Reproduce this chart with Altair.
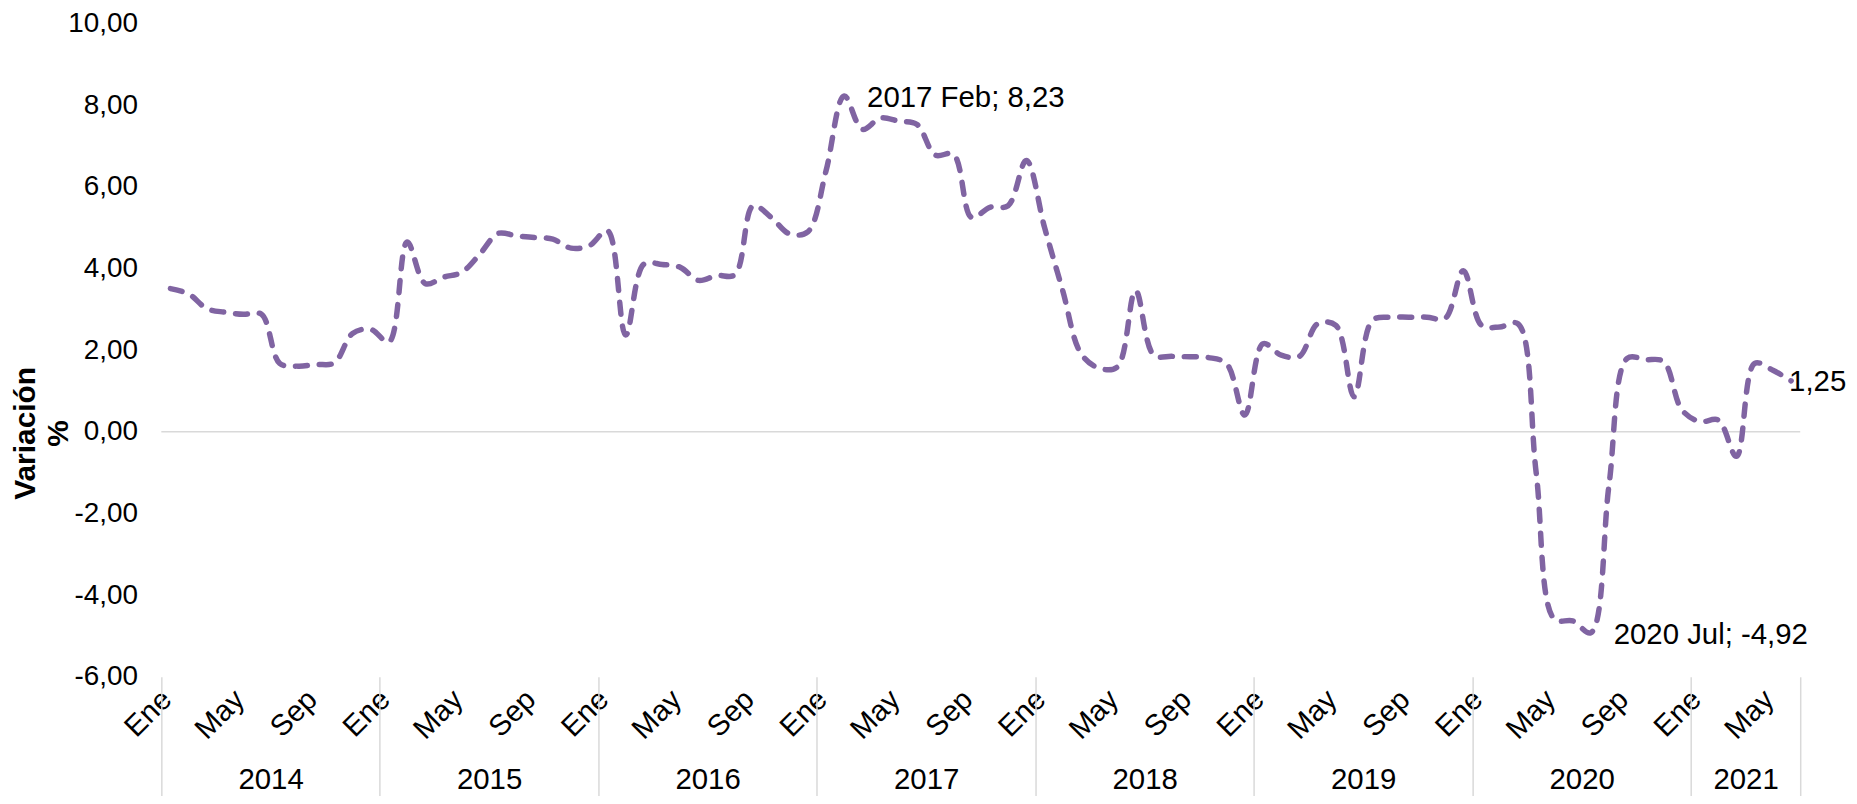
import altair as alt
import pandas as pd

MONTHS = ["Ene", "Feb", "Mar", "Abr", "May", "Jun", "Jul", "Ago", "Sep", "Oct", "Nov", "Dic"]
YEARS = [2014, 2015, 2016, 2017, 2018, 2019, 2020, 2021]

V2014 = [3.51, 3.38, 3.02, 2.93, 2.88, 2.88, 1.68, 1.61, 1.65, 1.69, 2.41, 2.51]
V2015 = [2.20, 4.65, 3.63, 3.79, 3.91, 4.36, 4.86, 4.80, 4.76, 4.72, 4.50, 4.56]
V2016 = [4.93, 2.37, 4.11, 4.10, 4.03, 3.71, 3.83, 3.85, 5.54, 5.25, 4.85, 4.90]
V2017 = [6.39, 8.23, 7.41, 7.69, 7.61, 7.53, 6.78, 6.80, 5.25, 5.50, 5.54, 6.65]
V2018 = [5.01, 3.46, 1.92, 1.56, 1.59, 3.46, 1.88, 1.85, 1.84, 1.82, 1.67, 0.41]
V2019 = [2.16, 1.88, 1.85, 2.65, 2.61, 0.86, 2.73, 2.81, 2.81, 2.81, 2.78, 3.95]
V2020 = [2.61, 2.57, 2.65, -1.00, -4.59, -4.63, -4.92, -1.30, 1.80, 1.77, 1.72, 0.54]
V2021 = [0.25, 0.29, -0.60, 1.68, 1.51, 1.25]
SERIES = [V2014, V2015, V2016, V2017, V2018, V2019, V2020, V2021]

ANNOTATED = [(2017, "Feb"), (2020, "Jul")]

FONT = "Liberation Sans"
PURPLE = "#8064A2"
GRAY = "#d9d9d9"
FS = 29.5

rows = []
idx = 0
for y, vals in zip(YEARS, SERIES):
    for m, v in enumerate(vals):
        rows.append({"idx": idx, "year": y, "month": MONTHS[m], "val": v})
        idx += 1
df = pd.DataFrame(rows)
N = len(df)


def fmt(v):
    return ("-" if v < 0 else "") + f"{abs(v):.2f}".replace(".", ",")


df["label"] = ""
for (yy, mm) in ANNOTATED:
    sel = (df["year"] == yy) & (df["month"] == mm)
    df.loc[sel, "label"] = df.loc[sel].apply(lambda r: f"{r.year} {r.month}; {fmt(r.val)}", axis=1)
df.loc[df.index[-1], "label"] = fmt(df["val"].iloc[-1])
df["kind"] = "none"
df.loc[df["label"] != "", "kind"] = "peak"
df.loc[df.index[-1], "kind"] = "last"

# year groups
year_counts = [len(v) for v in SERIES]
bounds = [0]
for c in year_counts:
    bounds.append(bounds[-1] + c)
mids = [(bounds[i] + bounds[i + 1]) / 2 for i in range(len(YEARS))]

month_vals = [i + 0.5 for i in range(0, N, 4)]
month_arr = "[" + ",".join(f"'{m}'" for m in MONTHS) + "]"

xscale = alt.Scale(domain=[0, N], nice=False, zero=False)
yscale = alt.Scale(domain=[-6, 10], nice=False, zero=False)

y_axis = alt.Axis(
    values=list(range(-6, 11, 2)),
    labelExpr="(datum.value < 0 ? '-' : '') + replace(format(abs(datum.value), '.2f'), '.', ',')",
    ticks=False, domain=False, grid=False,
    labelFontSize=28, labelPadding=24, labelColor="black", labelFont=FONT,
    title=["Variación", "%"], titleFontSize=30, titleFontWeight="bold", titleFont=FONT,
    titleAngle=270, titleX=-136, titleY=411, titleAlign="center", titleBaseline="middle",
    titleLineHeight=33, titleColor="black",
)

month_axis = alt.Axis(
    orient="bottom",
    values=month_vals,
    labelExpr=f"{month_arr}[floor(datum.value) % 12]",
    labelAngle=-45, labelAlign="right", labelBaseline="top", labelPadding=8, labelOffset=-14,
    labelFontSize=FS, labelFont=FONT, labelColor="black",
    ticks=False, domain=False, grid=False, labelOverlap=False, labelFlush=False, labelBound=False,
    title=None,
)

year_axis = alt.Axis(
    orient="bottom",
    values=mids,
    labelExpr="toString(" + str(YEARS[0]) + " + floor(datum.value / 12))",
    labelAngle=0, labelAlign="center", labelBaseline="middle", labelPadding=103,
    labelFontSize=FS, labelFont=FONT, labelColor="black",
    ticks=False, domain=False, grid=False, labelOverlap=False, labelFlush=False, labelBound=False,
    title=None,
)

sep_axis = alt.Axis(
    orient="bottom",
    values=bounds,
    labels=False, ticks=True, tickSize=120, tickColor=GRAY, tickWidth=1.5,
    domain=False, grid=False, title=None,
)

base = alt.Chart(df).transform_calculate(pos="datum.idx + 0.5")

zero = alt.Chart(pd.DataFrame({"val": [0]})).mark_rule(color=GRAY, strokeWidth=1.5).encode(
    y=alt.Y("val:Q", scale=yscale, axis=y_axis)
)

line = base.mark_line(
    interpolate="catmull-rom", color=PURPLE, strokeWidth=5.5,
    strokeDash=[12, 12], strokeCap="round",
).encode(
    x=alt.X("pos:Q", scale=xscale, axis=month_axis),
    y=alt.Y("val:Q", scale=yscale, axis=y_axis),
)

year_layer = base.mark_point(opacity=0).encode(
    x=alt.X("pos:Q", scale=xscale, axis=year_axis),
)
sep_layer = base.mark_point(opacity=0).encode(
    x=alt.X("pos:Q", scale=xscale, axis=sep_axis),
)

peak_text = base.transform_filter("datum.kind == 'peak'").mark_text(
    align="left", baseline="middle", dx=23, dy=2, fontSize=FS, font=FONT, color="black"
).encode(
    x=alt.X("pos:Q", scale=xscale, axis=None),
    y=alt.Y("val:Q", scale=yscale, axis=y_axis),
    text="label:N",
)
last_text = base.transform_filter("datum.kind == 'last'").mark_text(
    align="left", baseline="middle", dx=-2, dy=1, fontSize=FS, font=FONT, color="black"
).encode(
    x=alt.X("pos:Q", scale=xscale, axis=None),
    y=alt.Y("val:Q", scale=yscale, axis=y_axis),
    text="label:N",
)

chart = alt.layer(zero, line, year_layer, sep_layer, peak_text, last_text).resolve_axis(
    x="independent"
).properties(
    width=1646, height=656,
    autosize=alt.AutoSizeParams(type="none"),
    padding={"left": 154, "top": 14, "right": 49, "bottom": 118},
).configure(font=FONT).configure_view(strokeWidth=0, stroke="transparent")

chart.save("out.html", embed_options={"renderer": "svg", "actions": False})
